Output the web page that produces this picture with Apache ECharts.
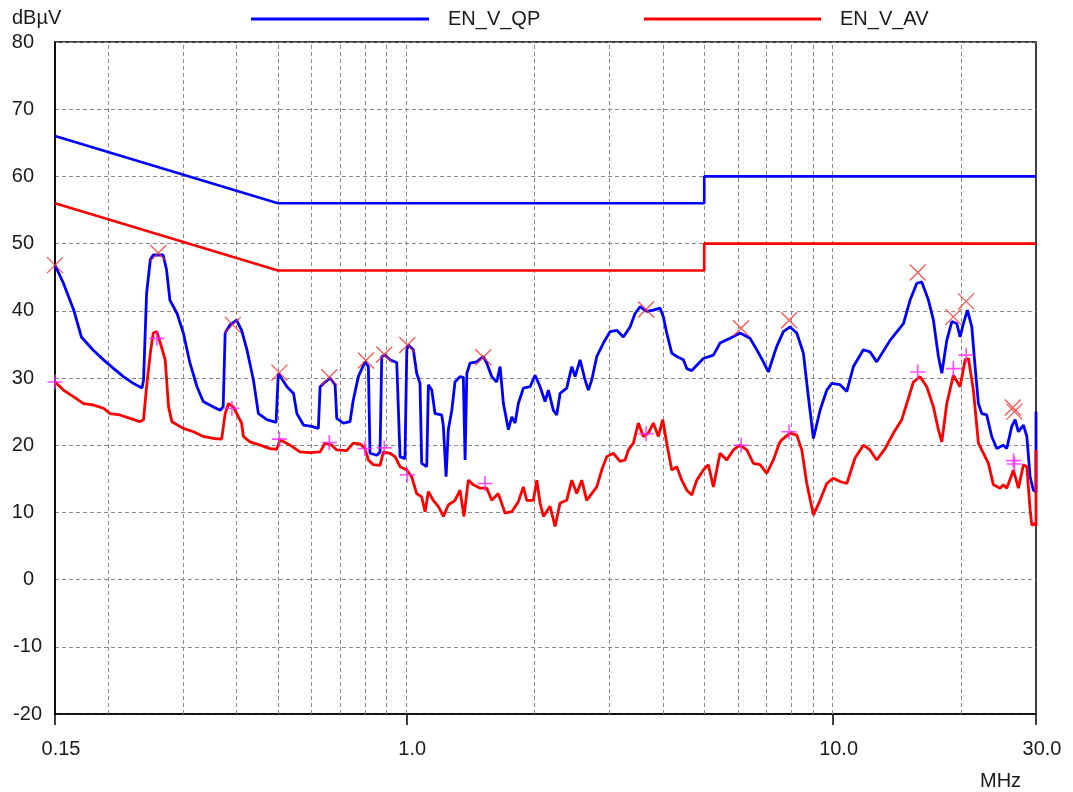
<!DOCTYPE html>
<html>
<head>
<meta charset="utf-8">
<title>EN_V scan</title>
<script src="https://cdn.jsdelivr.net/npm/echarts@6/dist/echarts.min.js"></script>
<style>
  html, body { margin: 0; padding: 0; background: #fff; }
  #chart { width: 1073px; height: 792px; }
</style>
</head>
<body>
<div id="chart"></div>
<script>
// axis setup
const xTickLabels = ['0.15', '1.0', '10.0', '30.0'];
const gridFreqs = [0.2, 0.3, 0.4, 0.5, 0.6, 0.7, 0.8, 0.9, 1, 2, 3, 4, 5, 6, 7, 8, 9, 10, 20];

// limit lines [MHz, dBuV]
const qpLimit = [[0.15, 66], [0.5, 56], [5, 56], [5, 60], [30, 60]];
const avLimit = [[0.15, 56], [0.5, 46], [5, 46], [5, 50], [30, 50]];

// quasi-peak scan (blue)
const qpScan = [
  [0.150, 46.8], [0.157, 44.1], [0.166, 40.1], [0.173, 36.1], [0.184, 34.2], [0.195, 32.7],
  [0.206, 31.4], [0.217, 30.2], [0.229, 29.2], [0.240, 28.5], [0.242, 29.7], [0.246, 42.6],
  [0.251, 47.6], [0.255, 48.3], [0.269, 48.3], [0.274, 46.1], [0.279, 41.6], [0.290, 39.6],
  [0.300, 36.7], [0.311, 32.2], [0.323, 28.7], [0.334, 26.5], [0.353, 25.7], [0.366, 25.2],
  [0.372, 25.7], [0.376, 36.7], [0.386, 37.9], [0.400, 38.6], [0.411, 37.1], [0.423, 34.2],
  [0.438, 29.7], [0.450, 24.7], [0.471, 23.8], [0.495, 23.4], [0.501, 30.7], [0.506, 30.9],
  [0.525, 28.7], [0.544, 27.7], [0.554, 24.7], [0.574, 23.0], [0.600, 22.8], [0.622, 22.5],
  [0.628, 28.7], [0.645, 29.4], [0.663, 30.0], [0.681, 29.0], [0.687, 24.0], [0.712, 23.3],
  [0.738, 23.5], [0.751, 26.7], [0.772, 30.2], [0.800, 32.4], [0.815, 31.7], [0.822, 18.8],
  [0.853, 18.5], [0.868, 19.0], [0.876, 33.2], [0.892, 33.4], [0.916, 32.7], [0.950, 32.3],
  [0.967, 18.3], [0.993, 18.0], [1.003, 34.2], [1.011, 34.9], [1.039, 34.2], [1.058, 30.7],
  [1.077, 29.2], [1.087, 17.3], [1.117, 16.8], [1.127, 29.0], [1.148, 28.2], [1.168, 24.7],
  [1.211, 24.5], [1.222, 22.8], [1.240, 15.3], [1.255, 22.3], [1.279, 25.2], [1.301, 29.4],
  [1.337, 30.2], [1.361, 30.1], [1.374, 17.8], [1.387, 30.7], [1.411, 32.2], [1.463, 32.4],
  [1.516, 33.2], [1.545, 32.2], [1.587, 30.2], [1.630, 29.4], [1.660, 31.7], [1.690, 26.2],
  [1.736, 22.3], [1.768, 24.2], [1.800, 23.3], [1.832, 26.2], [1.882, 28.5], [1.952, 28.7],
  [2.005, 30.4], [2.060, 28.7], [2.116, 26.5], [2.154, 28.2], [2.213, 25.2], [2.254, 24.5],
  [2.295, 27.7], [2.379, 28.5], [2.445, 31.7], [2.489, 30.2], [2.557, 32.7], [2.627, 29.7],
  [2.674, 28.2], [2.723, 29.7], [2.798, 33.2], [2.900, 35.2], [3.006, 36.9], [3.117, 37.1],
  [3.230, 36.1], [3.349, 37.6], [3.441, 39.6], [3.535, 40.6], [3.665, 39.9], [3.798, 40.1],
  [3.938, 40.4], [4.009, 39.1], [4.083, 36.7], [4.195, 33.7], [4.310, 33.2], [4.467, 32.7],
  [4.550, 31.4], [4.674, 31.1], [4.802, 31.9], [4.976, 32.9], [5.253, 33.4], [5.445, 35.2],
  [5.748, 35.9], [6.067, 36.7], [6.404, 35.9], [6.640, 34.2], [6.881, 32.4], [7.069, 30.9],
  [7.262, 33.2], [7.397, 34.7], [7.666, 36.9], [7.948, 37.6], [8.241, 36.7], [8.540, 33.7],
  [8.774, 27.2], [9.016, 21.0], [9.346, 25.2], [9.690, 28.2], [9.956, 29.2], [10.41, 29.0],
  [10.80, 28.0], [11.19, 31.7], [11.81, 34.2], [12.24, 33.9], [12.69, 32.4], [13.64, 35.6],
  [14.66, 38.1], [15.20, 41.6], [15.76, 44.1], [16.19, 44.3], [16.78, 41.6], [17.24, 38.6],
  [17.71, 33.2], [18.04, 30.7], [18.53, 35.6], [19.04, 38.4], [19.56, 38.1], [19.91, 36.1],
  [20.27, 38.1], [20.72, 40.1], [21.21, 37.6], [21.59, 31.7], [21.98, 26.2], [22.39, 24.7],
  [22.99, 24.5], [23.62, 21.3], [24.27, 19.5], [25.15, 20.0], [25.62, 19.5], [26.32, 22.8],
  [26.80, 23.8], [27.28, 22.0], [28.03, 23.0], [28.55, 21.3], [29.06, 15.3], [29.58, 13.3],
  [30.0, 13.0], [30.0, 25.0]
];

// average scan (red)
const avScan = [
  [0.150, 29.4], [0.157, 28.2], [0.166, 27.2], [0.175, 26.2], [0.184, 26.0], [0.195, 25.5],
  [0.202, 24.7], [0.213, 24.5], [0.225, 24.0], [0.237, 23.5], [0.242, 23.8], [0.246, 28.7],
  [0.251, 33.7], [0.255, 36.7], [0.260, 36.9], [0.265, 35.2], [0.272, 32.7], [0.277, 25.7],
  [0.282, 23.5], [0.300, 22.5], [0.317, 22.0], [0.334, 21.3], [0.353, 21.0], [0.369, 20.9],
  [0.376, 24.7], [0.383, 26.2], [0.393, 25.7], [0.404, 24.2], [0.411, 23.3], [0.415, 21.3],
  [0.430, 20.5], [0.454, 20.0], [0.479, 19.5], [0.497, 19.4], [0.506, 20.8], [0.534, 20.0],
  [0.563, 19.0], [0.595, 18.9], [0.628, 19.0], [0.645, 20.3], [0.669, 20.0], [0.687, 19.3],
  [0.725, 19.2], [0.751, 20.3], [0.779, 20.2], [0.800, 19.5], [0.815, 17.8], [0.837, 17.1],
  [0.868, 17.0], [0.884, 19.0], [0.916, 18.8], [0.941, 18.3], [0.967, 16.8], [1.003, 16.3],
  [1.030, 15.3], [1.058, 12.8], [1.087, 12.3], [1.107, 10.1], [1.127, 13.1], [1.157, 11.8],
  [1.189, 10.9], [1.222, 9.4], [1.255, 11.1], [1.301, 11.8], [1.337, 13.3], [1.366, 9.4],
  [1.398, 14.8], [1.437, 14.1], [1.490, 13.6], [1.545, 13.6], [1.587, 11.8], [1.644, 12.8],
  [1.705, 9.9], [1.768, 10.1], [1.832, 11.6], [1.882, 13.8], [1.917, 11.8], [1.987, 11.8],
  [2.024, 14.8], [2.060, 11.4], [2.097, 9.4], [2.174, 10.9], [2.234, 7.9], [2.295, 11.4],
  [2.379, 11.8], [2.445, 14.8], [2.511, 12.8], [2.580, 14.8], [2.650, 11.8], [2.723, 12.8],
  [2.798, 13.8], [2.874, 16.3], [2.953, 18.3], [3.060, 18.8], [3.173, 17.6], [3.261, 17.8],
  [3.319, 19.3], [3.410, 20.3], [3.503, 23.3], [3.598, 21.3], [3.697, 21.8], [3.798, 23.3],
  [3.902, 21.3], [3.996, 23.8], [4.083, 20.3], [4.195, 16.3], [4.310, 16.8], [4.428, 14.8],
  [4.550, 13.3], [4.674, 12.6], [4.802, 14.8], [4.976, 16.3], [5.112, 17.1], [5.253, 13.8],
  [5.445, 18.8], [5.646, 17.8], [5.852, 19.3], [6.067, 20.0], [6.291, 19.3], [6.520, 17.3],
  [6.760, 17.1], [7.008, 15.8], [7.262, 17.8], [7.502, 20.3], [7.600, 20.8], [7.948, 21.8],
  [8.241, 21.5], [8.467, 19.3], [8.700, 14.3], [9.016, 9.6], [9.346, 11.8], [9.690, 14.3],
  [10.04, 15.1], [10.41, 14.6], [10.80, 14.3], [11.29, 18.1], [11.81, 20.0], [12.24, 19.3],
  [12.69, 17.8], [13.28, 19.5], [13.89, 21.8], [14.53, 23.8], [14.93, 26.2], [15.47, 29.4],
  [16.04, 30.2], [16.63, 28.7], [17.24, 25.7], [17.71, 22.3], [18.04, 20.5], [18.53, 26.2],
  [19.20, 30.4], [19.91, 28.7], [20.46, 32.7], [20.83, 32.9], [21.39, 28.2], [21.98, 20.3],
  [22.59, 18.8], [23.20, 17.3], [23.84, 14.1], [24.71, 13.6], [25.15, 14.1], [25.62, 13.6],
  [26.56, 16.3], [27.28, 13.6], [28.03, 17.1], [28.55, 16.8], [29.06, 10.4], [29.33, 8.1],
  [29.90, 8.4], [30.0, 8.0], [30.0, 19.3]
];

// peak markers
const qpPeaks = [
  [0.150, 46.8], [0.262, 48.6], [0.392, 37.9], [0.504, 30.8], [0.660, 30.1], [0.804, 32.6],
  [0.888, 33.5], [1.006, 34.9], [1.516, 33.1], [3.652, 40.2], [6.100, 37.4], [7.907, 38.6],
  [15.84, 45.7], [19.20, 39.1], [20.57, 41.4], [26.47, 25.6], [26.70, 25.0]
];
const avPeaks = [
  [0.150, 29.4], [0.260, 35.9], [0.390, 25.5], [0.504, 20.9], [0.660, 20.4], [0.800, 19.5],
  [0.888, 19.6], [1.006, 15.6], [1.530, 14.3], [3.652, 21.7], [6.100, 20.0], [7.907, 22.0],
  [15.84, 30.9], [19.20, 31.4], [20.57, 33.4], [26.56, 17.7], [26.70, 17.2]
];

const FONT = '"Liberation Sans", Arial, sans-serif';
const TEXT = '#1a1a1a';
const GRID_DASH = { color: '#8a8a8a', width: 1, type: [4, 3] };

function xLabel(v) {
  // pick the tick label nearest to v
  let best = xTickLabels[0];
  for (const t of xTickLabels) {
    if (Math.abs(Math.log10(parseFloat(t)) - Math.log10(v)) < Math.abs(Math.log10(parseFloat(best)) - Math.log10(v))) best = t;
  }
  return '{t|' + best + '}';
}

const chart = echarts.init(document.getElementById('chart'));
chart.setOption({
  animation: false,
  backgroundColor: '#fff',
  textStyle: { fontFamily: FONT },
  title: [
    { text: 'dBµV', left: 12, top: 8, padding: 0, textStyle: { fontSize: 20, fontWeight: 'normal', color: TEXT, fontFamily: FONT } },
    { text: 'MHz', left: 980, top: 771, padding: 0, textStyle: { fontSize: 20, fontWeight: 'normal', color: TEXT, fontFamily: FONT } }
  ],
  legend: [
    {
      data: ['EN_V_QP'], left: 251, top: 9, padding: 0, icon: 'rect',
      itemWidth: 178, itemHeight: 3, selectedMode: false,
      textStyle: { fontSize: 20, color: TEXT, fontFamily: FONT, padding: [0, 0, 0, 14] }
    },
    {
      data: ['EN_V_AV'], left: 644, top: 9, padding: 0, icon: 'rect',
      itemWidth: 177, itemHeight: 3, selectedMode: false,
      textStyle: { fontSize: 20, color: TEXT, fontFamily: FONT, padding: [0, 0, 0, 14] }
    }
  ],
  grid: { left: 55, right: 37, top: 42, bottom: 78, show: true, borderColor: '#000', borderWidth: 1.5 },
  xAxis: {
    type: 'log', logBase: 10, min: 0.15, max: 30,
    axisLine: { show: true, onZero: false, lineStyle: { color: '#000', width: 1.5 } },
    axisTick: { show: true, length: 11, lineStyle: { color: '#000', width: 1.5 } },
    splitLine: { show: false },
    axisLabel: {
      showMinLabel: true, showMaxLabel: true, margin: 25,
      formatter: xLabel,
      rich: { t: { fontSize: 20, color: TEXT, fontFamily: FONT, padding: [0, 0, 0, 12] } }
    }
  },
  yAxis: {
    type: 'value', min: -20, max: 80, interval: 10,
    axisLine: { show: true, lineStyle: { color: '#000', width: 1.5 } },
    axisTick: { show: false },
    splitLine: { show: true, lineStyle: GRID_DASH },
    axisLabel: {
      margin: 13,
      formatter: v => v >= 0 ? '{p|' + v + '}' : '{n|' + v + '}',
      rich: {
        p: { fontSize: 20, color: TEXT, fontFamily: FONT, padding: [0, 8, 0, 0] },
        n: { fontSize: 20, color: TEXT, fontFamily: FONT }
      }
    }
  },
  series: [
    {
      // vertical log grid lines
      name: 'grid', type: 'line', data: [], z: 1, silent: true,
      markLine: {
        silent: true, z: 1, symbol: ['none', 'none'], label: { show: false },
        lineStyle: GRID_DASH, emphasis: { disabled: true },
        data: gridFreqs.map(f => ({ xAxis: f }))
      }
    },
    {
      name: 'EN_V_QP', type: 'line', data: qpLimit, symbol: 'none', silent: true, z: 2,
      lineStyle: { color: '#0000ff', width: 2.6 }, itemStyle: { color: '#0000ff' }
    },
    {
      name: 'EN_V_AV', type: 'line', data: avLimit, symbol: 'none', silent: true, z: 2,
      lineStyle: { color: '#ff0000', width: 2.6 }, itemStyle: { color: '#ff0000' }
    },
    {
      name: 'QP', type: 'line', data: qpScan, symbol: 'none', silent: true, z: 3,
      lineStyle: { color: '#0000ff', width: 2.8 }
    },
    {
      name: 'AV', type: 'line', data: avScan, symbol: 'none', silent: true, z: 3,
      lineStyle: { color: '#ff0000', width: 2.8 }
    },
    {
      name: 'QP peaks', type: 'scatter', data: qpPeaks, silent: true, z: 4, clip: false,
      symbol: 'path://M0,0L10,10M10,0L0,10', symbolSize: 16,
      itemStyle: { color: 'rgba(0,0,0,0)', borderColor: '#ff2a2a', borderWidth: 1.3 }
    },
    {
      name: 'AV peaks', type: 'scatter', data: avPeaks, silent: true, z: 4, clip: false,
      symbol: 'path://M5,0L5,10M0,5L10,5', symbolSize: 15,
      itemStyle: { color: 'rgba(0,0,0,0)', borderColor: '#ff22ff', borderWidth: 1.6 }
    }
  ]
});
</script>
</body>
</html>
